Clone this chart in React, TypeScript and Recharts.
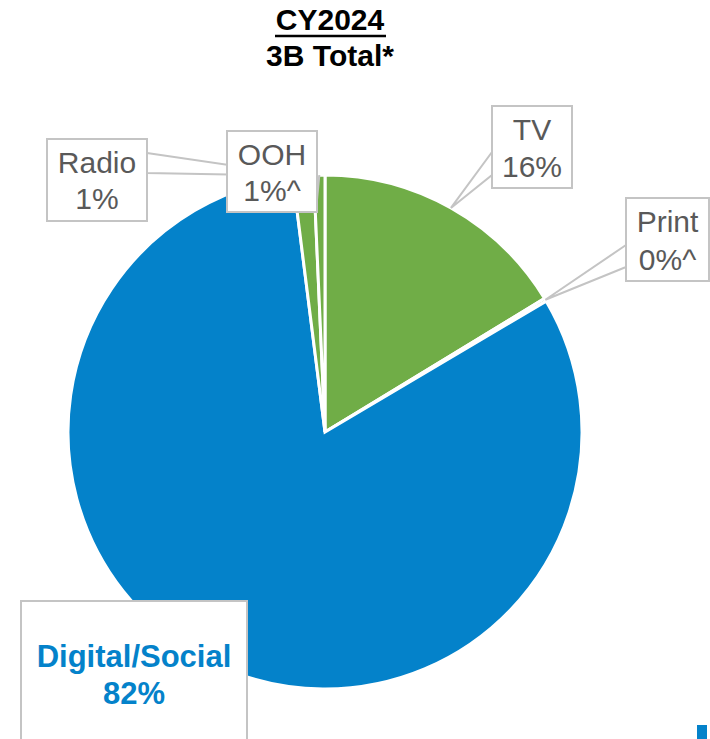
import React from "react";
import { Cell, Pie, PieChart } from "recharts";

// clockwise from 12 o'clock
const channels = ["TV", "Print", "Digital/Social", "Radio", "OOH"];
const shares = [16.3, 0.2, 81.5, 1.3, 0.7];
const shareLabels = ["16%", "0%^", "82%", "1%", "1%^"];

const BLUE = "#0482CA";
const GREEN = "#70AD47";
const GRAY_TEXT = "#595959";
const BOX_STROKE = "#C4C4C4";

const sliceColors: Record<string, string> = {
  TV: GREEN,
  Print: GREEN,
  "Digital/Social": BLUE,
  Radio: GREEN,
  OOH: GREEN,
};

type Callout = {
  x: number;
  y: number;
  w: number;
  h: number;
  line1: number;
  line2: number;
  tail?: [number, number][];
  bold?: boolean;
  size: number;
  color: string;
};

const callouts: Record<string, Callout> = {
  TV: { x: 492, y: 106, w: 80, h: 82, line1: 140, line2: 177, tail: [[492, 152], [492, 175]], size: 30, color: GRAY_TEXT },
  Print: { x: 626, y: 198, w: 83, h: 83, line1: 232, line2: 270, tail: [[626, 245], [626, 267]], size: 30, color: GRAY_TEXT },
  "Digital/Social": { x: 21, y: 601, w: 226, h: 160, line1: 667, line2: 704, bold: true, size: 31, color: BLUE },
  Radio: { x: 47, y: 139, w: 100, h: 82, line1: 173, line2: 209, tail: [[147, 153], [147, 173]], size: 30, color: GRAY_TEXT },
  OOH: { x: 227, y: 131, w: 90, h: 81, line1: 165, line2: 201, tail: [[317, 190], [317, 200]], size: 30, color: GRAY_TEXT },
};

const data = channels.map((name, i) => ({ name, value: shares[i], text: shareLabels[i] }));

const RAD = Math.PI / 180;
const FONT = "'Liberation Sans', Arial, sans-serif";

function renderCallout(props: any) {
  const { cx, cy, midAngle, outerRadius, index } = props;
  const name = channels[index];
  const c = callouts[name];
  const ax = cx + outerRadius * Math.cos(-midAngle * RAD);
  const ay = cy + outerRadius * Math.sin(-midAngle * RAD);
  const mid = c.x + c.w / 2;
  return (
    <g key={name}>
      {c.tail ? (
        <polygon
          points={`${c.tail[0][0]},${c.tail[0][1]} ${ax},${ay} ${c.tail[1][0]},${c.tail[1][1]}`}
          fill="none"
          stroke={BOX_STROKE}
          strokeWidth={2}
        />
      ) : null}
      <rect x={c.x} y={c.y} width={c.w} height={c.h} fill="#fff" stroke={BOX_STROKE} strokeWidth={2} />
      <text
        x={mid}
        y={c.line1}
        textAnchor="middle"
        fill={c.color}
        fontFamily={FONT}
        fontSize={c.size}
        fontWeight={c.bold ? "bold" : "normal"}
      >
        {name}
      </text>
      <text
        x={mid}
        y={c.line2}
        textAnchor="middle"
        fill={c.color}
        fontFamily={FONT}
        fontSize={c.size}
        fontWeight={c.bold ? "bold" : "normal"}
      >
        {shareLabels[index]}
      </text>
    </g>
  );
}

export default function App() {
  return (
    <div style={{ position: "absolute", left: 0, top: 0, width: 710, height: 739, overflow: "hidden", background: "#fff" }}>
      <PieChart width={710} height={739} margin={{ top: 0, right: 0, bottom: 0, left: 0 }}>
        <text x={330} y={30} textAnchor="middle" fontFamily={FONT} fontSize={30} fontWeight="bold" fill="#000">
          CY2024
        </text>
        <line x1={275} y1={36} x2={386} y2={36} stroke="#000" strokeWidth={2.5} />
        <text x={330} y={66} textAnchor="middle" fontFamily={FONT} fontSize={30} fontWeight="bold" fill="#000">
          3B Total*
        </text>
        <Pie
          data={data}
          dataKey="value"
          nameKey="name"
          cx={325}
          cy={432}
          outerRadius={257}
          startAngle={90}
          endAngle={-270}
          stroke="#fff"
          strokeWidth={3}
          label={renderCallout}
          labelLine={false}
          isAnimationActive={false}
        >
          {data.map((d) => (
            <Cell key={d.name} fill={sliceColors[d.name]} />
          ))}
        </Pie>
      </PieChart>
      <div style={{ position: "absolute", left: 697, top: 725, width: 10, height: 14, background: BLUE }} />
    </div>
  );
}
